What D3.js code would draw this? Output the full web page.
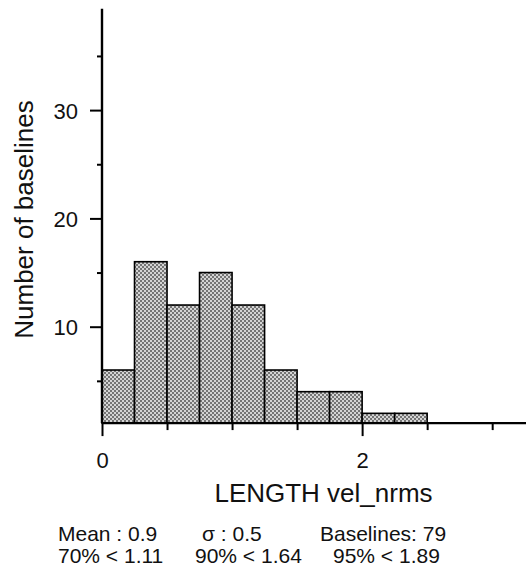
<!DOCTYPE html>
<html>
<head>
<meta charset="utf-8">
<script src="https://cdn.jsdelivr.net/npm/d3@7"></script>
<style>
	body { margin: 0; background: #fff; }
	svg { display: block; }
	text { font-family: 'Liberation Sans', Arial, Helvetica, sans-serif; fill: #111; }
</style>
</head>
<body>
<div id="chart"></div>
<script>
const width = 526;
const height = 569;

// Histogram data ==============================================================
const binStarts = [0, 0.25, 0.5, 0.75, 1.0, 1.25, 1.5, 1.75, 2.0, 2.25];
const binWidth = 0.25;
const counts = [6, 16, 12, 15, 12, 6, 4, 4, 2, 2];

const xMajorTicks = [0, 2];
const xMinorTicks = [0.5, 1, 1.5, 2.5, 3];
const yMajorTicks = [10, 20, 30];
const yMinorTicks = [5, 15, 25, 35];

const statsRow1 = ['Mean : 0.9', '\u03c3 : 0.5', 'Baselines: 79'];
const statsRow2 = ['70% < 1.11', '90% < 1.64', '95% < 1.89'];
// =============================================================================

const svg = d3.select('#chart').append('svg').attr('width', width).attr('height', height);

// Stipple fill pattern
const defs = svg.append('defs');
const pat = defs
	.append('pattern')
	.attr('id', 'stipple')
	.attr('patternUnits', 'userSpaceOnUse')
	.attr('width', 4)
	.attr('height', 4);
pat.append('rect').attr('width', 4).attr('height', 4).attr('fill', '#d4d4d4');
pat.append('rect').attr('width', 2).attr('height', 2).attr('fill', '#747474');
pat.append('rect').attr('x', 2).attr('y', 2).attr('width', 2).attr('height', 2).attr('fill', '#747474');

// Scales
const xScale = d3.scaleLinear().domain([0, 3.26]).range([102, 526]);
const yScale = d3.scaleLinear().domain([0, 40]).range([435, 1.8]);
const yBase = 1.1; // value where the x axis crosses
const yTop = 39.35;

const x0 = xScale(0);
const yb = yScale(yBase);

// Bars
svg.selectAll('.bar')
	.data(counts)
	.enter()
	.append('rect')
	.attr('class', 'bar')
	.attr('x', (d, i) => xScale(binStarts[i]))
	.attr('width', (d, i) => xScale(binStarts[i] + binWidth) - xScale(binStarts[i]))
	.attr('y', (d) => yScale(d))
	.attr('height', (d) => yb - yScale(d))
	.attr('fill', 'url(#stipple)')
	.attr('stroke', '#000')
	.attr('stroke-width', 1.6);

// Y axis
const yAxis = d3.axisLeft(yScale).tickValues(yMajorTicks).tickSize(12).tickFormat(d3.format('d'));
const yAxisG = svg.append('g').attr('transform', `translate(${x0},0)`).call(yAxis);
yAxisG.select('.domain').remove();
yAxisG.selectAll('line').attr('stroke', '#000').attr('stroke-width', 2);
yAxisG
	.selectAll('text')
	.attr('x', -24)
	.attr('dy', '0.36em')
	.attr('text-anchor', 'end')
	.style('font-size', '22px')
	.attr('fill', '#111');

const yMinorG = svg
	.append('g')
	.attr('transform', `translate(${x0},0)`)
	.call(d3.axisLeft(yScale).tickValues(yMinorTicks).tickSize(5).tickFormat(''));
yMinorG.select('.domain').remove();
yMinorG.selectAll('line').attr('stroke', '#000').attr('stroke-width', 2);

// X axis
const xAxis = d3.axisBottom(xScale).tickValues(xMajorTicks).tickSize(13).tickFormat(d3.format('d'));
const xAxisG = svg.append('g').attr('transform', `translate(0,${yb})`).call(xAxis);
xAxisG.select('.domain').remove();
xAxisG.selectAll('line').attr('stroke', '#000').attr('stroke-width', 2);
xAxisG
	.selectAll('text')
	.attr('y', 29)
	.attr('dy', '0.72em')
	.attr('text-anchor', 'middle')
	.style('font-size', '22px')
	.attr('fill', '#111');

const xMinorG = svg
	.append('g')
	.attr('transform', `translate(0,${yb})`)
	.call(d3.axisBottom(xScale).tickValues(xMinorTicks).tickSize(7).tickFormat(''));
xMinorG.select('.domain').remove();
xMinorG.selectAll('line').attr('stroke', '#000').attr('stroke-width', 2);

// Axis lines
svg.append('line')
	.attr('x1', x0)
	.attr('x2', x0)
	.attr('y1', yScale(yTop))
	.attr('y2', yb)
	.attr('stroke', '#000')
	.attr('stroke-width', 2.4);

svg.append('line')
	.attr('x1', x0)
	.attr('x2', xScale.range()[1])
	.attr('y1', yb)
	.attr('y2', yb)
	.attr('stroke', '#000')
	.attr('stroke-width', 2.4);

// Axis titles
svg.append('text')
	.attr('transform', 'translate(33,219.5) rotate(-90)')
	.attr('text-anchor', 'middle')
	.style('font-size', '26px')
	.text('Number of baselines');

svg.append('text')
	.attr('x', 323.5)
	.attr('y', 502)
	.attr('text-anchor', 'middle')
	.style('font-size', '26px')
	.text('LENGTH vel_nrms');

// Statistics
const row1X = [58, 202, 320];
const row2X = [58, 195, 333];
svg.selectAll('.stat1')
	.data(statsRow1)
	.enter()
	.append('text')
	.attr('x', (d, i) => row1X[i])
	.attr('y', 541)
	.style('font-size', '21px')
	.text((d) => d);

svg.selectAll('.stat2')
	.data(statsRow2)
	.enter()
	.append('text')
	.attr('x', (d, i) => row2X[i])
	.attr('y', 563)
	.style('font-size', '21px')
	.text((d) => d);
</script>
</body>
</html>
